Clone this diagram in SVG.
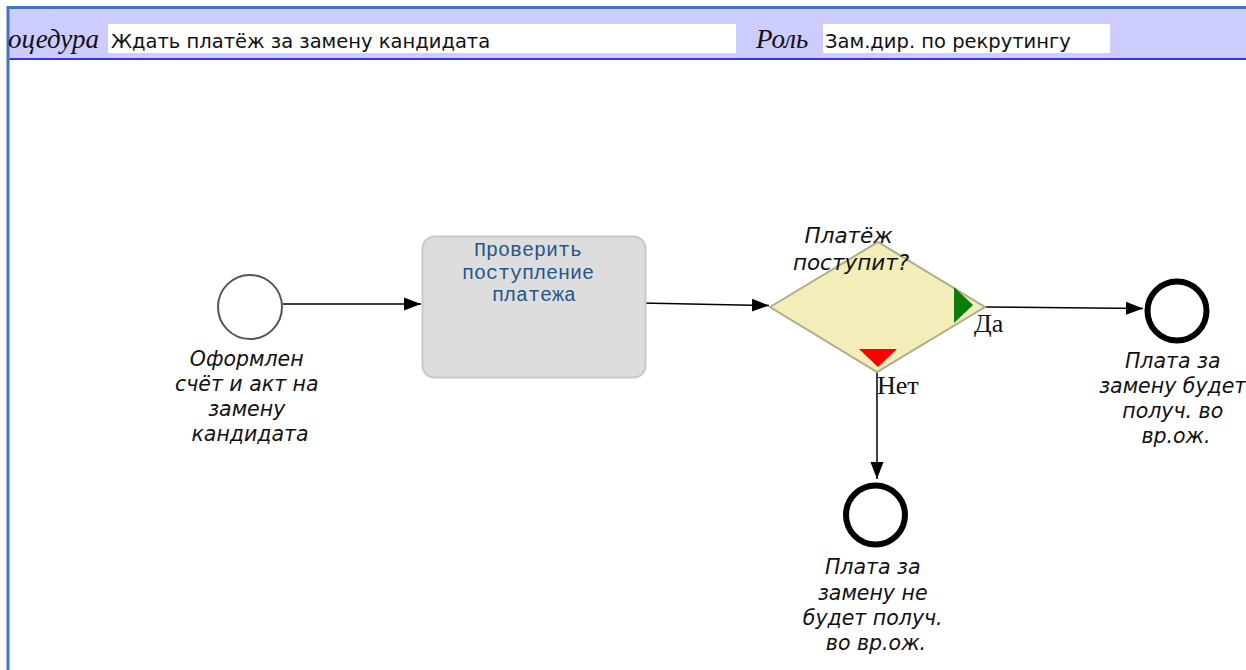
<svg xmlns="http://www.w3.org/2000/svg" width="1246" height="670" viewBox="0 0 1246 670">
  <style>
    .hdr-cap { font-family: "Liberation Serif", serif; font-style: italic; font-size: 27px; fill: #111; }
    .hdr-val { font-family: "DejaVu Sans", sans-serif; font-size: 19.5px; fill: #111; }
    .evt-label { font-family: "DejaVu Sans", sans-serif; font-style: italic; font-size: 20.5px; fill: #111; text-anchor: middle; }
    .gw-label { font-family: "DejaVu Sans", sans-serif; font-style: italic; font-size: 21.5px; fill: #111; text-anchor: middle; }
    .task-label { font-family: "Liberation Mono", monospace; font-size: 20px; fill: #24578a; text-anchor: middle; }
    .flow-label { font-family: "Liberation Serif", serif; font-size: 26px; fill: #111; }
    .flow { fill: none; stroke: #000; stroke-width: 1.5; marker-end: url(#arrow); }
    .end-evt { fill: #fff; stroke: #000; stroke-width: 6; }
  </style>
  <defs>
    <marker id="arrow" markerWidth="18" markerHeight="14" refX="17" refY="7" orient="auto" markerUnits="userSpaceOnUse">
      <path d="M0,0.5 L17,7 L0,13.5 Z" fill="#000"/>
    </marker>
  </defs>

  <rect x="0" y="0" width="1246" height="670" fill="#fff"/>

  <!-- header band -->
  <g id="header">
    <rect x="8" y="8" width="1238" height="51" fill="#ccccff"/>
    <line x1="7" y1="7.5" x2="1246" y2="7.5" stroke="#4472c4" stroke-width="3"/>
    <line x1="8" y1="59" x2="1246" y2="59" stroke="#3535ee" stroke-width="2"/>
    <line x1="8" y1="6" x2="8" y2="670" stroke="#4472c4" stroke-width="3"/>
    <text class="hdr-cap" x="8" y="48">оцедура</text>
    <rect x="108" y="24" width="628" height="29" fill="#fff"/>
    <text class="hdr-val" x="111" y="48">Ждать платёж за замену кандидата</text>
    <text class="hdr-cap" x="756" y="48">Роль</text>
    <rect x="823" y="24" width="287" height="29" fill="#fff"/>
    <text class="hdr-val" x="825" y="48">Зам.дир. по рекрутингу</text>
  </g>

  <!-- connectors -->
  <g id="connectors">
    <line class="flow" x1="283" y1="304" x2="421" y2="304"/>
    <line class="flow" x1="641" y1="303" x2="769" y2="305.5"/>
    <line class="flow" x1="985" y1="307" x2="1143" y2="308.5"/>
    <line class="flow" x1="877" y1="372" x2="877" y2="479"/>
    <text class="flow-label" x="974" y="332">Да</text>
    <text class="flow-label" x="877" y="394">Нет</text>
  </g>

  <!-- start event -->
  <g id="start-event">
    <circle cx="250" cy="307" r="32" fill="#fff" stroke="#555" stroke-width="2"/>
    <text class="evt-label" x="250" y="366">
      <tspan x="250">Оформлен</tspan>
      <tspan x="250" dy="25">счёт и акт на</tspan>
      <tspan x="250" dy="25">замену</tspan>
      <tspan x="250" dy="25">кандидата</tspan>
    </text>
  </g>

  <!-- task -->
  <g id="task-check-payment">
    <rect x="422.5" y="236.5" width="223" height="141" rx="12" ry="12" fill="#dddddd" stroke="#c8c8c8" stroke-width="2"/>
    <text class="task-label" x="534" y="256">
      <tspan x="534">Проверить</tspan>
      <tspan x="534" dy="22.5">поступление</tspan>
      <tspan x="534" dy="22.5">платежа</tspan>
    </text>
  </g>

  <!-- exclusive gateway -->
  <g id="gateway-payment">
    <polygon points="770,307 878,242 985,307 877,372" fill="#f3edb9" stroke="#b0ad88" stroke-width="2"/>
    <polygon points="954,287 973,305 954,323" fill="#0a7d0a"/>
    <polygon points="859,349 897,349 878,367" fill="#ff0000"/>
    <text class="gw-label" x="852" y="243">
      <tspan x="852">Платёж</tspan>
      <tspan x="851" dy="27">поступит?</tspan>
    </text>
  </g>

  <!-- end event: paid -->
  <g id="end-event-paid">
    <circle class="end-evt" cx="1177" cy="311" r="29.5"/>
    <text class="evt-label" x="1176" y="368">
      <tspan x="1176">Плата за</tspan>
      <tspan x="1176" dy="25">замену будет</tspan>
      <tspan x="1176" dy="25">получ. во</tspan>
      <tspan x="1176" dy="25">вр.ож.</tspan>
    </text>
  </g>

  <!-- end event: not paid -->
  <g id="end-event-not-paid">
    <circle class="end-evt" cx="875.5" cy="515" r="29.5"/>
    <text class="evt-label" x="876" y="574">
      <tspan x="876">Плата за</tspan>
      <tspan x="876" dy="26">замену не</tspan>
      <tspan x="876" dy="25">будет получ.</tspan>
      <tspan x="876" dy="25">во вр.ож.</tspan>
    </text>
  </g>
</svg>
